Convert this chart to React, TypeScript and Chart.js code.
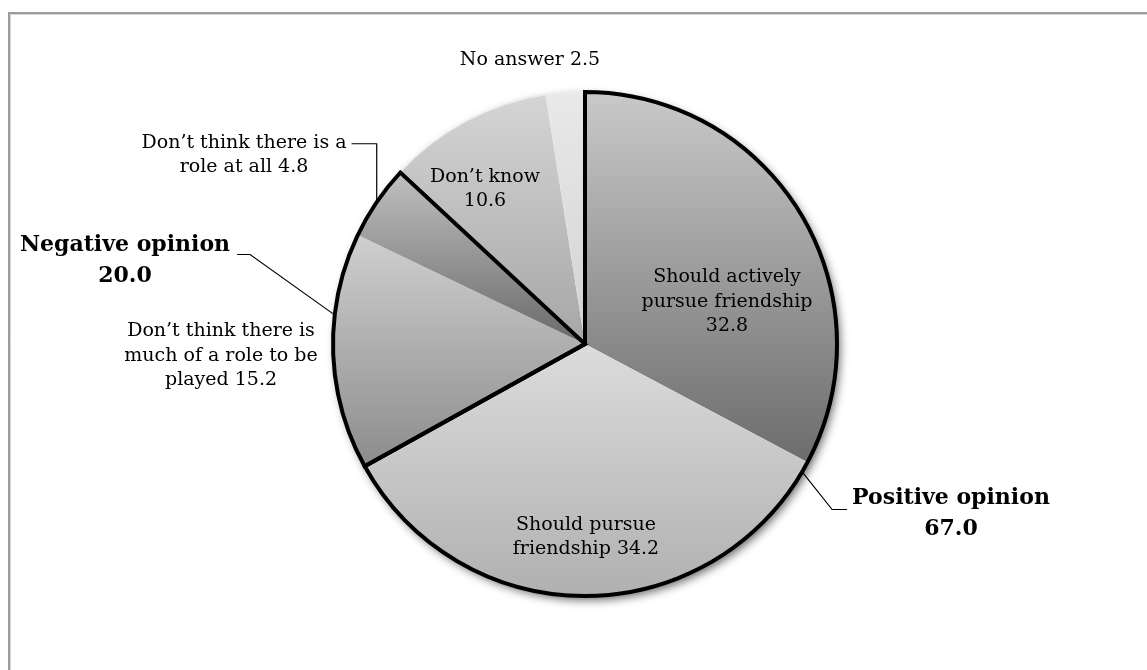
import React, { useEffect, useRef } from "react";
import { Chart, registerables } from "chart.js";

Chart.register(...registerables);

// ---- Data ----
const categories = [
  "Should actively pursue friendship",
  "Should pursue friendship",
  "Don’t think there is much of a role to be played",
  "Don’t think there is a role at all",
  "Don’t know",
  "No answer",
];
const values = [32.8, 34.2, 15.2, 4.8, 10.6, 2.5];
// label text lines; the slice value is appended to the last line
const labelLines = [
  ["Should actively", "pursue friendship", ""],
  ["Should pursue", "friendship"],
  ["Don’t think there is", "much of a role to be", "played"],
  ["Don’t think there is a", "role at all"],
  ["Don’t know", ""],
  ["No answer"],
];
const groupNames = ["Positive opinion", "Negative opinion"];
const groupValues = [67.0, 20.0];
const groupMembers = [
  [0, 1],
  [2, 3],
];

// ---- Styles / layout ----
const gradTop = ["#c9c9c9", "#dcdcdc", "#cfcfcf", "#bfbfbf", "#d5d5d5", "#e9e9e9"];
const gradBottom = ["#6c6c6c", "#b0b0b0", "#8c8c8c", "#6a6a6a", "#a6a6a6", "#d2d2d2"];
// label centre offsets relative to pie centre (px)
const labelOffsets = [
  [142, -42],
  [1, 193],
  [-364, 12],
  [-341, -189],
  [-100, -155],
  [-55, -284],
];
const groupOffsets = [
  [366, 170],
  [-460, -83],
];
const FONT = '"DejaVu Serif", "Liberation Serif", serif';

function sliceAngles(i: number) {
  const total = values.reduce((a, b) => a + b, 0);
  let start = -Math.PI / 2;
  for (let j = 0; j < i; j++) start += (values[j] / total) * Math.PI * 2;
  const end = start + (values[i] / total) * Math.PI * 2;
  return [start, end];
}

function sliceGradient(ctx: any) {
  const chart = ctx.chart;
  const area = chart.chartArea;
  const i = ctx.dataIndex;
  if (!area || i === undefined) return gradTop[i ?? 0];
  const cx = (area.left + area.right) / 2;
  const cy = (area.top + area.bottom) / 2;
  const r = Math.min(area.right - area.left, area.bottom - area.top) / 2;
  const [s, e] = sliceAngles(i);
  const ys = [cy, cy + r * Math.sin(s), cy + r * Math.sin(e)];
  for (const a of [-Math.PI / 2, Math.PI / 2, (3 * Math.PI) / 2]) {
    if (a >= s && a <= e) ys.push(cy + r * Math.sin(a));
  }
  const y0 = Math.min(...ys);
  const y1 = Math.max(...ys);
  const g = chart.ctx.createLinearGradient(0, y0, 0, y1 + 0.01);
  g.addColorStop(0, gradTop[i]);
  g.addColorStop(1, gradBottom[i]);
  return g;
}

const decorPlugin = {
  id: "decor",
  beforeDraw(chart: any) {
    const c = chart.ctx;
    c.save();
    c.strokeStyle = "#9c9c9c";
    c.lineWidth = 2;
    c.beginPath();
    c.moveTo(9, 700);
    c.lineTo(9, 13);
    c.lineTo(1200, 13);
    c.stroke();
    c.strokeStyle = "#d6d6d6";
    c.lineWidth = 1;
    c.beginPath();
    c.moveTo(10.5, 700);
    c.lineTo(10.5, 14.5);
    c.lineTo(1200, 14.5);
    c.stroke();
    c.restore();
  },
  beforeDatasetsDraw(chart: any) {
    const arc = chart.getDatasetMeta(0).data[0];
    if (!arc) return;
    const c = chart.ctx;
    c.save();
    c.shadowColor = "rgba(0,0,0,0.6)";
    c.shadowBlur = 10;
    c.shadowOffsetX = 3;
    c.shadowOffsetY = 4;
    c.fillStyle = "#ffffff";
    c.beginPath();
    c.arc(arc.x, arc.y, arc.outerRadius, 0, Math.PI * 2);
    c.fill();
    c.restore();
  },
  afterDatasetsDraw(chart: any) {
    const arcs = chart.getDatasetMeta(0).data;
    if (!arcs.length) return;
    const c = chart.ctx;
    const cx = arcs[0].x;
    const cy = arcs[0].y;
    const R = arcs[0].outerRadius;

    // group outlines
    c.save();
    c.strokeStyle = "#000";
    c.lineWidth = 4;
    c.lineJoin = "miter";
    groupMembers.forEach((m) => {
      const s = arcs[m[0]].startAngle;
      const e = arcs[m[m.length - 1]].endAngle;
      c.beginPath();
      c.moveTo(cx, cy);
      c.lineTo(cx + R * Math.cos(s), cy + R * Math.sin(s));
      c.arc(cx, cy, R, s, e);
      c.closePath();
      c.stroke();
    });
    c.restore();

    // slice labels
    c.save();
    c.fillStyle = "#000";
    c.textAlign = "center";
    c.textBaseline = "middle";
    c.font = `19px ${FONT}`;
    const lh = 24.5;
    const sliceTextRight: number[] = [];
    const sliceLine1Y: number[] = [];
    labelLines.forEach((lines, i) => {
      const full = lines.slice();
      const last = full.length - 1;
      full[last] = (full[last] ? full[last] + " " : "") + values[i].toFixed(1);
      const [ox, oy] = labelOffsets[i];
      const x = cx + ox;
      const y0 = cy + oy - ((full.length - 1) * lh) / 2;
      full.forEach((t, k) => c.fillText(t, x, y0 + k * lh));
      sliceTextRight[i] = x + c.measureText(full[0]).width / 2;
      sliceLine1Y[i] = y0;
    });

    // group labels
    c.font = `bold 22px ${FONT}`;
    const glh = 31;
    const gBox: any[] = [];
    groupNames.forEach((name, g) => {
      const [ox, oy] = groupOffsets[g];
      const x = cx + ox;
      const y0 = cy + oy - glh / 2;
      c.fillText(name, x, y0);
      c.fillText(groupValues[g].toFixed(1), x, y0 + glh);
      const w = c.measureText(name).width;
      gBox[g] = { left: x - w / 2, right: x + w / 2, y: y0 };
    });

    // leader lines
    c.strokeStyle = "#000";
    c.lineWidth = 1.2;
    const midPoint = (s: number, e: number) => {
      const a = (s + e) / 2;
      return [cx + R * Math.cos(a), cy + R * Math.sin(a)];
    };
    // slice "role at all"
    {
      const [ex, ey] = midPoint(arcs[3].startAngle, arcs[3].endAngle);
      const ly = sliceLine1Y[3] + 1;
      c.beginPath();
      c.moveTo(ex, ey - 2);
      c.lineTo(ex, ly);
      c.lineTo(sliceTextRight[3] + 5, ly);
      c.stroke();
    }
    // positive opinion
    {
      const [ex, ey] = midPoint(arcs[0].startAngle, arcs[1].endAngle);
      const ly = gBox[0].y + 11;
      c.beginPath();
      c.moveTo(ex, ey);
      c.lineTo(gBox[0].left - 20, ly);
      c.lineTo(gBox[0].left - 5, ly);
      c.stroke();
    }
    // negative opinion
    {
      const [ex, ey] = midPoint(arcs[2].startAngle, arcs[3].endAngle);
      const ly = gBox[1].y + 9;
      c.beginPath();
      c.moveTo(ex - 2, ey);
      c.lineTo(gBox[1].right + 20, ly);
      c.lineTo(gBox[1].right + 7, ly);
      c.stroke();
    }
    c.restore();
  },
};

export default function App() {
  const ref = useRef<HTMLCanvasElement | null>(null);
  useEffect(() => {
    if (!ref.current) return;
    const chart = new Chart(ref.current, {
      type: "pie",
      data: {
        labels: categories,
        datasets: [
          {
            data: values,
            backgroundColor: sliceGradient as any,
            borderWidth: 0,
          },
        ],
      },
      options: {
        animation: false,
        responsive: false,
        devicePixelRatio: 1,
        layout: { padding: { left: 333, right: 310, top: 92, bottom: 74 } },
        plugins: {
          legend: { display: false },
          tooltip: { enabled: false },
        },
      },
      plugins: [decorPlugin],
    });
    return () => chart.destroy();
  }, []);
  return (
    <canvas
      ref={ref}
      width={1147}
      height={670}
      style={{ position: "fixed", left: 0, top: 0, width: 1147, height: 670 }}
    />
  );
}
